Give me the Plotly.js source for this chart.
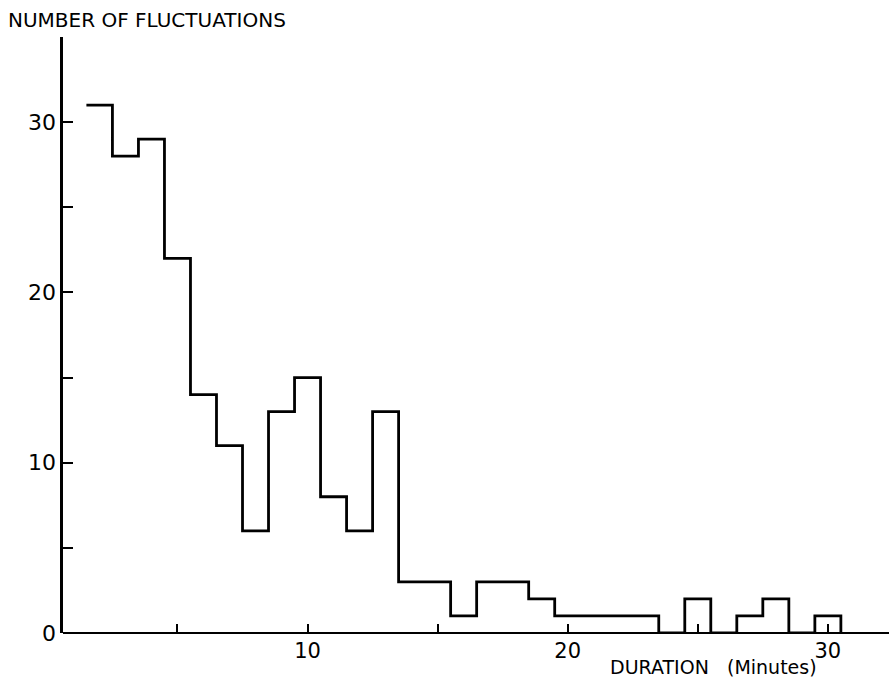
<!DOCTYPE html>
<html>
<head>
<meta charset="utf-8">
<script src="https://cdn.plot.ly/plotly-3.0.1.min.js"></script>
<style>html,body{margin:0;padding:0;background:#fff;}#chart{width:889px;height:682px;}</style>
</head>
<body>
<div id="chart"></div>
<script>
// Duration (minutes), bin centres
var durations = [2,3,4,5,6,7,8,9,10,11,12,13,14,15,16,17,18,19,20,21,22,23,24,25,26,27,28,29,30];
// Number of fluctuations in each 1-minute bin
var counts    = [31,28,29,22,14,11,6,13,15,8,6,13,3,3,1,3,3,2,1,1,1,1,0,2,0,1,2,0,1];
var binWidth = 1;

var xTickVals = [5,10,15,20,25,30];
var xTickText = ['','10','','20','','30'];
var yTickVals = [0,5,10,15,20,25,30,35];
var yTickText = ['0','','10','','20','','30',''];

// step outline built from the bins
var stepX = durations.map(function(d){ return d - binWidth/2; });
var stepY = counts.slice();
stepX.push(durations[durations.length-1] + binWidth/2);
stepY.push(0);

var font = {family: 'DejaVu Sans, Liberation Sans, sans-serif', color: '#000'};

var trace = {
  x: stepX, y: stepY, type: 'scatter', mode: 'lines',
  line: {shape: 'hv', color: '#000', width: 2.8},
  cliponaxis: false, hoverinfo: 'skip'
};

var W = 889, H = 682, L = 63, R = 0, T = 37, B = 48.5;
var pw = W - L - R, ph = H - T - B;

var layout = {
  width: W, height: H,
  margin: {l: L, r: R, t: T, b: B},
  paper_bgcolor: '#fff', plot_bgcolor: '#fff',
  showlegend: false,
  xaxis: {
    range: [0.6, 32.35], showgrid: false, zeroline: false,
    showline: false,
    ticks: 'inside', ticklen: 9, tickwidth: 2, tickcolor: '#000',
    tickmode: 'array', tickvals: xTickVals, ticktext: xTickText,
    tickfont: Object.assign({size: 21}, font), ticklabelstandoff: 3
  },
  yaxis: {
    range: [0, 35], showgrid: false,
    zeroline: true, zerolinecolor: '#000', zerolinewidth: 2.6,
    showline: true, linecolor: '#000', linewidth: 2.6,
    ticks: 'inside', ticklen: 10, tickwidth: 2, tickcolor: '#000',
    tickmode: 'array', tickvals: yTickVals, ticktext: yTickText,
    tickfont: Object.assign({size: 22}, font), ticklabelstandoff: 0
  },
  annotations: [
    {text: 'NUMBER OF FLUCTUATIONS', xref: 'paper', yref: 'paper',
     x: (7-L)/pw, y: 1 + (T-20)/ph, xanchor: 'left', yanchor: 'middle',
     showarrow: false, borderpad: 0, font: Object.assign({size: 20}, font)},
    {text: 'DURATION&nbsp;&nbsp;&nbsp;(Minutes)', xref: 'paper', yref: 'paper',
     x: (609-L)/pw, y: -(668-(H-B))/ph, xanchor: 'left', yanchor: 'middle',
     showarrow: false, borderpad: 0, font: Object.assign({size: 19}, font)}
  ]
};

Plotly.newPlot('chart', [trace], layout, {displayModeBar: false, staticPlot: true});
</script>
</body>
</html>
